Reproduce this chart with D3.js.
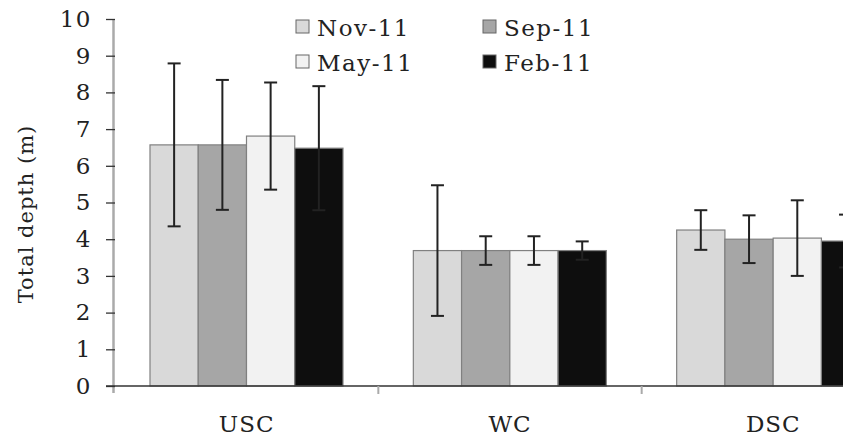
<!DOCTYPE html>
<html>
<head>
<meta charset="utf-8">
<script src="https://cdn.jsdelivr.net/npm/d3@7"></script>
<style>
	body { margin: 0; background: #fff; }
	svg { display: block; font-family: "DejaVu Serif", serif; }
</style>
</head>
<body>
<svg id="chart" width="843" height="439"></svg>
<script>
// Data
var sites = ['USC', 'WC', 'DSC'];
var months = ['Nov-11', 'Sep-11', 'May-11', 'Feb-11'];
var depth = {
	'Nov-11': [6.57, 3.69, 4.25],
	'Sep-11': [6.57, 3.69, 4.00],
	'May-11': [6.81, 3.69, 4.03],
	'Feb-11': [6.48, 3.69, 3.95]
};
var depthErr = {
	'Nov-11': [2.22, 1.78, 0.54],
	'Sep-11': [1.77, 0.39, 0.65],
	'May-11': [1.46, 0.39, 1.03],
	'Feb-11': [1.69, 0.25, 0.72]
};
var fills = ['#d9d9d9', '#a6a6a6', '#f2f2f2', '#0e0e0e'];
var yTicks = [0, 1, 2, 3, 4, 5, 6, 7, 8, 9, 10];

var svg = d3.select('#chart');

// Scales
var x0 = d3.scaleBand().domain(sites).range([115, 905]);
var x1 = d3.scaleBand().domain(months).range([35, 228]);
var y = d3.scaleLinear().domain([0, 10]).range([386, 19]);
var color = d3.scaleOrdinal().domain(months).range(fills);

// Y axis
svg.append('line')
	.attr('x1', 113.5).attr('x2', 113.5)
	.attr('y1', y(10)).attr('y2', 393)
	.style('stroke', '#aaa').style('stroke-width', 2.5);

var yAxis = svg.append('g')
	.attr('transform', 'translate(115,0)')
	.call(d3.axisLeft(y).tickValues(yTicks).tickSize(9).tickPadding(14));
yAxis.select('.domain').remove();
yAxis.selectAll('line').style('stroke', '#333').style('stroke-width', 1.3);
yAxis.selectAll('text')
	.style('font-family', '"DejaVu Serif", serif')
	.style('font-size', '23px')
	.style('letter-spacing', '1.5px')
	.style('fill', '#222');

// Axis title
svg.append('text')
	.attr('transform', 'translate(33,214) rotate(-90)')
	.attr('text-anchor', 'middle')
	.style('font-size', '21px')
	.style('letter-spacing', '1px')
	.style('fill', '#222')
	.text('Total depth (m)');

// Bars
var groups = svg.selectAll('.site')
	.data(sites)
	.enter().append('g')
	.attr('class', 'site')
	.attr('transform', function(d) { return 'translate(' + x0(d) + ',0)'; });

groups.selectAll('rect')
	.data(function(d, i) { return months.map(function(m) { return {month: m, value: depth[m][i], err: depthErr[m][i]}; }); })
	.enter().append('rect')
	.attr('x', function(d) { return x1(d.month); })
	.attr('y', function(d) { return y(d.value); })
	.attr('width', x1.bandwidth())
	.attr('height', function(d) { return y(0) - y(d.value); })
	.style('fill', function(d) { return color(d.month); })
	.style('stroke', '#808080')
	.style('stroke-width', 1.2);

// Error bars
var eb = groups.selectAll('.err')
	.data(function(d, i) { return months.map(function(m) { return {month: m, value: depth[m][i], err: depthErr[m][i]}; }); })
	.enter().append('g')
	.attr('class', 'err')
	.attr('transform', function(d) { return 'translate(' + (x1(d.month) + x1.bandwidth() / 2) + ',0)'; })
	.style('stroke', '#222')
	.style('stroke-width', 2);

eb.append('line')
	.attr('y1', function(d) { return y(d.value + d.err); })
	.attr('y2', function(d) { return y(d.value - d.err); });
eb.append('line')
	.attr('x1', -6.5).attr('x2', 6.5)
	.attr('y1', function(d) { return y(d.value + d.err); })
	.attr('y2', function(d) { return y(d.value + d.err); });
eb.append('line')
	.attr('x1', -6.5).attr('x2', 6.5)
	.attr('y1', function(d) { return y(d.value - d.err); })
	.attr('y2', function(d) { return y(d.value - d.err); });

// X axis
svg.append('line')
	.attr('x1', 106).attr('x2', 905)
	.attr('y1', y(0)).attr('y2', y(0))
	.style('stroke', '#333').style('stroke-width', 1.5);

svg.selectAll('.xtick')
	.data(sites.slice(1))
	.enter().append('line')
	.attr('class', 'xtick')
	.attr('x1', function(d) { return x0(d); })
	.attr('x2', function(d) { return x0(d); })
	.attr('y1', y(0)).attr('y2', y(0) + 8)
	.style('stroke', '#aaa').style('stroke-width', 2);

svg.selectAll('.xlabel')
	.data(sites)
	.enter().append('text')
	.attr('class', 'xlabel')
	.attr('x', function(d) { return x0(d) + x0.bandwidth() / 2; })
	.attr('y', 432)
	.attr('text-anchor', 'middle')
	.style('font-size', '23px')
	.style('letter-spacing', '1px')
	.style('fill', '#222')
	.text(function(d) { return d; });

// Legend
var legendPos = [[296, 20], [483, 20], [296, 55], [483, 55]];
var leg = svg.selectAll('.legend')
	.data(months)
	.enter().append('g')
	.attr('class', 'legend')
	.attr('transform', function(d, i) { return 'translate(' + legendPos[i][0] + ',' + legendPos[i][1] + ')'; });

leg.append('rect')
	.attr('width', 13).attr('height', 13)
	.style('fill', function(d) { return color(d); })
	.style('stroke', '#666').style('stroke-width', 1);

leg.append('text')
	.attr('x', 21).attr('y', 16)
	.style('font-size', '23px')
	.style('letter-spacing', '1.5px')
	.style('fill', '#222')
	.text(function(d) { return d; });
</script>
</body>
</html>
